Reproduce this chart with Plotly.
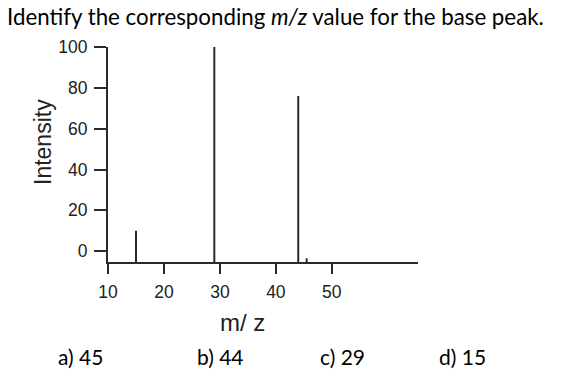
import plotly.graph_objects as go

# Data
mz_values = [15, 29, 44, 45.5]
intensities = [10, 100, 76, -3.5]
baseline = -5.3
x_ticks = [10, 20, 30, 40, 50]
y_ticks = [0, 20, 40, 60, 80, 100]
title_text = "Identify the corresponding <i>m/z</i> value for the base peak."
choices = ["a) 45", "b) 44", "c) 29", "d) 15"]
choice_x = [80, 220, 342, 462]

xs, ys = [], []
for m, v in zip(mz_values, intensities):
    xs += [m, m, None]
    ys += [baseline, v, None]

fig = go.Figure()
fig.add_trace(go.Scatter(x=xs, y=ys, mode="lines",
                         line=dict(color="#2a2a2a", width=2),
                         hoverinfo="skip", showlegend=False))

W, H = 574, 376
plot_left, plot_right, plot_top, plot_bottom = 108, 418, 47, 262  # screen px
ml = plot_left
mt = plot_top
pw = plot_right - plot_left
ph = plot_bottom - plot_top
mr = W - ml - pw
mb = H - mt - ph

axis_font = dict(family="Liberation Sans, Arial, sans-serif", size=17.5, color="#222")
fig.update_layout(
    width=W, height=H,
    margin=dict(l=ml, r=mr, t=mt, b=mb, pad=0, autoexpand=False),
    paper_bgcolor="white", plot_bgcolor="white",
    showlegend=False, hovermode=False,
    xaxis=dict(range=[10, 65.4], tickvals=x_ticks, ticks="outside", ticklen=10,
               tickwidth=2, tickcolor="#2a2a2a", showline=True, linewidth=2,
               linecolor="#2a2a2a", showgrid=False, zeroline=False, automargin=False,
               ticklabelstandoff=3,
               tickfont=axis_font, fixedrange=True),
    yaxis=dict(range=[baseline, 100], tickvals=y_ticks, ticks="outside", ticklen=12,
               tickwidth=2, tickcolor="#2a2a2a", showline=True, linewidth=2,
               linecolor="#2a2a2a", showgrid=False, zeroline=False, automargin=False,
               ticklabelstandoff=3,
               tickfont=axis_font, fixedrange=True),
)

# extension of the y axis below the x axis
fig.add_shape(type="line", xref="x", yref="paper", x0=10, x1=10, y0=0, y1=-6 / ph,
              line=dict(color="#2a2a2a", width=2))

def px_to_paper_x(px):
    return (px - plot_left) / pw

def px_to_paper_y(py):
    return (plot_bottom - py) / ph

# Title
fig.add_annotation(text=title_text, xref="paper", yref="paper",
                   x=px_to_paper_x(6), y=px_to_paper_y(16), xanchor="left", yanchor="middle",
                   borderpad=0, showarrow=False,
                   font=dict(family="Lato, sans-serif", size=22.3, color="black"))
# axis titles
fig.add_annotation(text="m/ z", xref="paper", yref="paper",
                   x=px_to_paper_x(242), y=px_to_paper_y(322), xanchor="center", yanchor="middle",
                   showarrow=False, font=dict(family="Liberation Sans, Arial, sans-serif", size=24, color="#222"))
fig.add_annotation(text="Intensity", xref="paper", yref="paper", textangle=-90,
                   x=px_to_paper_x(43), y=px_to_paper_y(142), xanchor="center", yanchor="middle",
                   showarrow=False, font=dict(family="Liberation Sans, Arial, sans-serif", size=23, color="#222"))
# answer choices
for label, cx in zip(choices, choice_x):
    fig.add_annotation(text=label, xref="paper", yref="paper",
                       x=px_to_paper_x(cx), y=px_to_paper_y(356), xanchor="center", yanchor="middle",
                       showarrow=False, font=dict(family="Lato, sans-serif", size=21, color="black"))

fig.write_html("out.html", config={"displayModeBar": False, "staticPlot": True},
               post_script="document.body.style.margin='0px';")
